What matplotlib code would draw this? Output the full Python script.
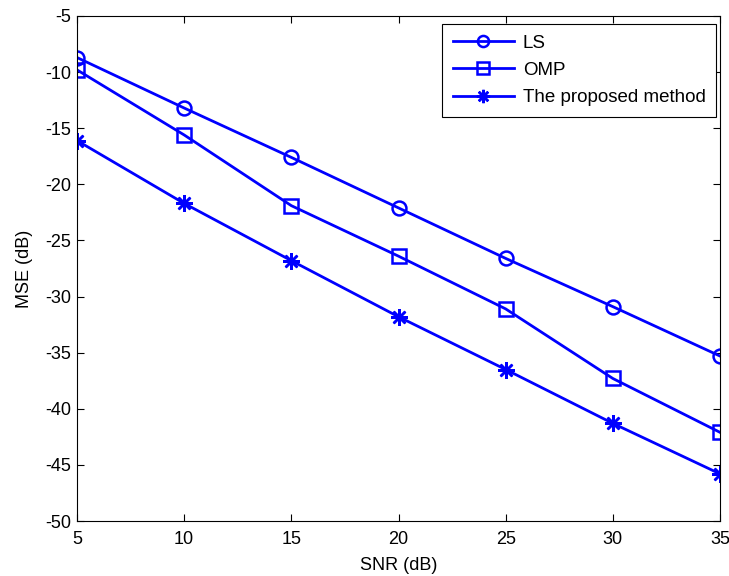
import matplotlib.pyplot as plt
import numpy as np

plt.rcParams['font.family'] = ['Liberation Sans', 'DejaVu Sans']
plt.rcParams['axes.unicode_minus'] = False

snr = [5, 10, 15, 20, 25, 30, 35]
mse_ls = [-8.7, -13.2, -17.6, -22.1, -26.6, -30.9, -35.3]
mse_omp = [-9.8, -15.6, -21.9, -26.4, -31.1, -37.3, -42.1]
mse_prop = [-16.1, -21.7, -26.8, -31.8, -36.5, -41.3, -45.8]

fig = plt.figure(figsize=(7.29, 5.76), dpi=100)
ax = fig.add_axes([77 / 729, 55 / 576, 643 / 729, 505 / 576])

style = dict(color="blue", linewidth=2, markerfacecolor="none",
             markeredgewidth=1.8)
ax.plot(snr, mse_ls, marker="o", markersize=10, label="LS", **style)
ax.plot(snr, mse_omp, marker="s", markersize=10, label="OMP", **style)
ax.plot(snr, mse_prop, marker=(8, 2, 0), markersize=12, label="The proposed method", **style)

ax.set_xlim(5, 35)
ax.set_ylim(-50, -5)
ax.set_xticks(np.arange(5, 36, 5))
ax.set_yticks(np.arange(-50, -4, 5))
ax.tick_params(direction="in", top=True, right=True, labelsize=13, length=5)
ax.tick_params(axis="x", pad=7.5)
ax.tick_params(axis="y", pad=4)
ax.set_xlabel("SNR (dB)", fontsize=13, labelpad=6)
ax.set_ylabel("MSE (dB)", fontsize=13, labelpad=9)

# legend box sits just inside the top right corner, as in the MATLAB figure
leg = ax.legend(loc="upper right", bbox_to_anchor=(0.9938, 0.984), borderaxespad=0,
                fontsize=13.5, handlelength=3.3, fancybox=False, edgecolor="black",
                framealpha=1, labelspacing=0.55, handletextpad=0.45, borderpad=0.55,
                markerscale=0.8)
leg.get_frame().set_linewidth(0.8)

fig.savefig("out.png", dpi=100)
